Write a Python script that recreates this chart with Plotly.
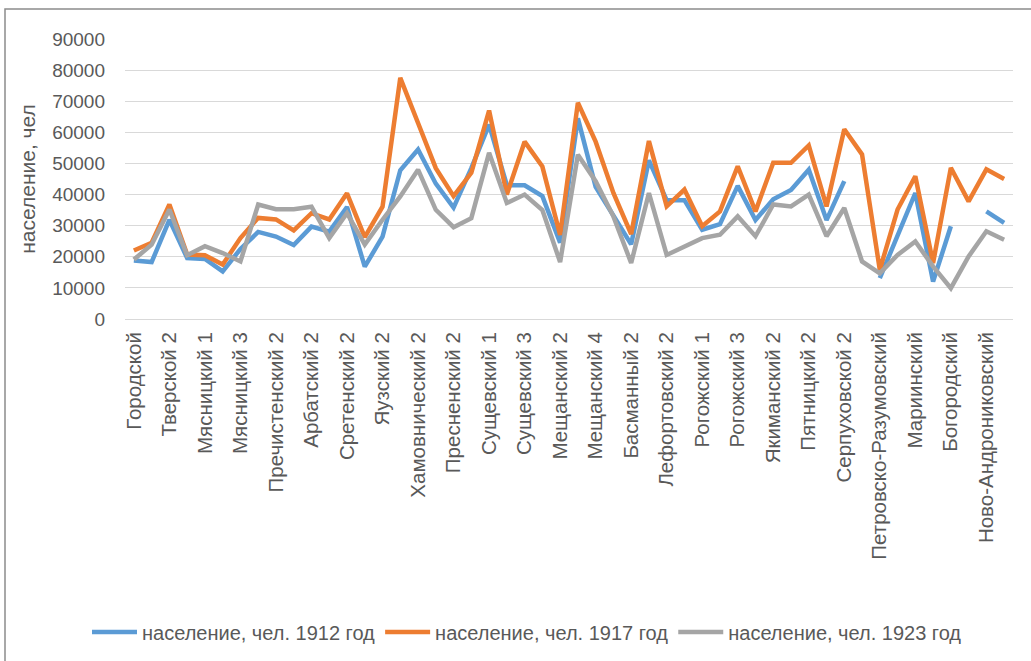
import plotly.graph_objects as go

districts = [
    "Городской", "Тверской 1", "Тверской 2", "Тверской 3", "Мясницкий 1",
    "Мясницкий 2", "Мясницкий 3", "Пречистенский 1", "Пречистенский 2", "Арбатский 1",
    "Арбатский 2", "Сретенский 1", "Сретенский 2", "Яузский 1", "Яузский 2",
    "Хамовнический 1", "Хамовнический 2", "Пресненский 1", "Пресненский 2", "Пресненский 3",
    "Сущевский 1", "Сущевский 2", "Сущевский 3", "Мещанский 1", "Мещанский 2",
    "Мещанский 3", "Мещанский 4", "Басманный 1", "Басманный 2", "Лефортовский 1",
    "Лефортовский 2", "Лефортовский 3", "Рогожский 1", "Рогожский 2", "Рогожский 3",
    "Якиманский 1", "Якиманский 2", "Пятницкий 1", "Пятницкий 2", "Серпуховской 1",
    "Серпуховской 2", "Бутырский", "Петровско-Разумовский", "Алексеевский", "Мариинский",
    "Сокольнический", "Богородский", "Симоновский", "Ново-Андрониковский", "Даниловский",
]

# labels shown on the axis (every second category)
tick_labels = districts[::2]

pop_1912 = [
    18800, 18300, 31900, 19600, 19300, 15300, 22500, 28000, 26500, 23800,
    29700, 28100, 36000, 16800, 26500, 47800, 54500, 43500, 35800, 48500,
    62500, 43000, 43000, 39500, 24500, 64500, 42500, 33000, 24000, 51000,
    38200, 38200, 28700, 30500, 42800, 31800, 38500, 41500, 48000, 31800,
    44300, None, 13100, 26500, 40500, 12000, 29800, None, 34600, 30900,
]

pop_1917 = [
    22000, 24500, 36800, 20700, 20500, 17500, 26000, 32500, 32000, 28500,
    34000, 32000, 40400, 26300, 36100, 77500, 63000, 48500, 39500, 47000,
    67000, 40000, 57000, 49000, 27000, 69500, 57000, 40500, 27300, 57200,
    36200, 41600, 29800, 34600, 49100, 34600, 50200, 50200, 55800, 36200,
    61000, 52900, 15800, 35200, 45900, 18000, 48600, 37800, 48100, 45000,
]

pop_1923 = [
    19100, 23900, 35200, 20500, 23400, 21200, 18500, 36800, 35300, 35300,
    36100, 26000, 34000, 23900, 31900, 39400, 48000, 35100, 29500, 32400,
    53400, 37300, 40000, 35000, 18300, 52800, 44300, 33000, 18000, 40500,
    20600, 23300, 26000, 27100, 33000, 26600, 36800, 36200, 40000, 26600,
    35700, 18500, 14700, 20600, 24900, 16900, 9900, 20100, 28200, 25500,
]

series = [
    ("население, чел. 1912 год", pop_1912, "#5B9BD5"),
    ("население, чел. 1917 год", pop_1917, "#ED7D31"),
    ("население, чел. 1923 год", pop_1923, "#A5A5A5"),
]

FONT = "Liberation Sans"
TXT = "#595959"

fig = go.Figure()
for name, vals, col in series:
    fig.add_trace(go.Scatter(
        x=districts, y=vals, name=name, mode="lines",
        line=dict(color=col, width=4.5), connectgaps=False,
    ))

W, H = 1031, 661
L, R, T, B = 125, 18, 39, 341
pw, ph = W - L - R, H - T - B

def px(x):
    return (x - L) / pw

def py(y):
    return (H - B - y) / ph

fig.update_layout(
    width=W, height=H,
    margin=dict(l=L, r=R, t=T, b=B, pad=0),
    paper_bgcolor="white", plot_bgcolor="white",
    font=dict(family=FONT, color=TXT, size=19),
    showlegend=True,
    legend=dict(
        orientation="h", x=px(527), xanchor="center", y=py(632), yanchor="middle",
        font=dict(family=FONT, size=20, color=TXT), itemwidth=45,
        bgcolor="rgba(0,0,0,0)",
    ),
    xaxis=dict(
        type="category", categoryorder="array", categoryarray=districts,
        tickmode="array", tickvals=tick_labels, ticktext=tick_labels,
        tickangle=-90, showgrid=False, showline=False, ticks="",
        ticklabelstandoff=8,
        tickfont=dict(family=FONT, size=20.5, color=TXT),
        range=[-0.5, len(districts) - 0.5], zeroline=False,
    ),
    yaxis=dict(
        range=[0, 90000], dtick=10000, tickformat="d",
        showgrid=True, gridcolor="#D9D9D9", gridwidth=1,
        zeroline=True, zerolinecolor="#D9D9D9", zerolinewidth=1,
        showline=False, ticks="", ticklabelstandoff=19,
        tickfont=dict(family=FONT, size=19, color=TXT),
        title=dict(text="население, чел", font=dict(family=FONT, size=21, color=TXT), standoff=10),
    ),
    shapes=[dict(
        type="rect", xref="paper", yref="paper",
        x0=px(5), x1=px(1040), y0=py(670), y1=py(9),
        line=dict(color="#8C8C8C", width=1.5), fillcolor="rgba(0,0,0,0)", layer="above",
    )],
)

fig.write_html("out.html", config={"displayModeBar": False},
               post_script="document.body.style.margin='0';")
